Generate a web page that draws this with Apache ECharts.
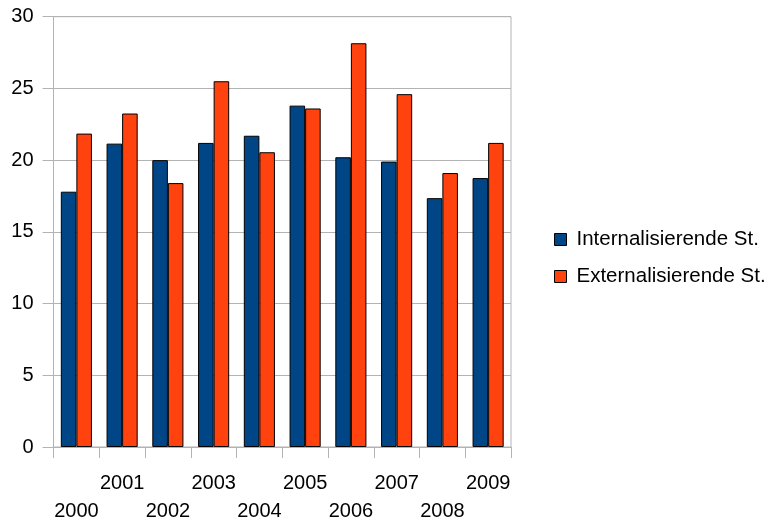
<!DOCTYPE html>
<html>
<head>
<meta charset="utf-8">
<script src="https://cdn.jsdelivr.net/npm/echarts@6/dist/echarts.min.js"></script>
<style>
  html, body { margin: 0; padding: 0; background: #fff; }
  #chart { width: 773px; height: 525px; }
</style>
</head>
<body>
<div id="chart"></div>
<script>
// Jahre und Werte je Störungsgruppe
const years = ['2000', '2001', '2002', '2003', '2004', '2005', '2006', '2007', '2008', '2009'];
const internalisierend = [17.8, 21.15, 20.0, 21.2, 21.7, 23.8, 20.2, 19.9, 17.35, 18.75];
const externalisierend = [21.85, 23.25, 18.4, 25.5, 20.55, 23.6, 28.15, 24.6, 19.1, 21.2];
const seriesNames = ['Internalisierende St.', 'Externalisierende St.'];
const yTicks = { min: 0, max: 30, interval: 5 };

const FONT = '"Liberation Sans", Arial, sans-serif';
const GRID_GRAY = '#b3b3b3';

const chart = echarts.init(document.getElementById('chart'), null, { renderer: 'canvas' });

chart.setOption({
  animation: false,
  backgroundColor: '#fff',
  textStyle: { fontFamily: FONT, color: '#000' },
  grid: {
    left: 53.5, right: 262, top: 16.7, bottom: 76,
    show: true, borderColor: GRID_GRAY, borderWidth: 1,
    containLabel: false
  },
  legend: {
    orient: 'vertical',
    left: 549,
    top: 224,
    itemWidth: 12,
    itemHeight: 12,
    itemGap: 16,
    icon: 'rect',
    itemStyle: { borderColor: '#000', borderWidth: 1 },
    textStyle: { fontFamily: FONT, fontSize: 20.5, color: '#000', padding: [0, 0, 0, 5] },
    data: seriesNames
  },
  xAxis: {
    type: 'category',
    data: years,
    boundaryGap: true,
    axisLine: { show: true, lineStyle: { color: GRID_GRAY, width: 1 } },
    axisTick: { show: true, length: 11, alignWithLabel: false, lineStyle: { color: GRID_GRAY } },
    axisLabel: {
      interval: 0,
      margin: 22,
      fontFamily: FONT,
      fontSize: 20,
      lineHeight: 28,
      color: '#000',
      verticalAlign: 'top',
      formatter: (v, i) => (i % 2 === 0 ? '\n' + v : v)
    },
    splitLine: { show: false }
  },
  yAxis: {
    type: 'value',
    min: yTicks.min,
    max: yTicks.max,
    interval: yTicks.interval,
    axisLine: { show: true, lineStyle: { color: GRID_GRAY, width: 1 } },
    axisTick: { show: true, length: 11, lineStyle: { color: GRID_GRAY } },
    axisLabel: { margin: 20, fontFamily: FONT, fontSize: 20, color: '#000' },
    splitLine: { show: true, lineStyle: { color: GRID_GRAY, width: 1 } }
  },
  series: [
    {
      name: seriesNames[0],
      type: 'bar',
      data: internalisierend,
      barGap: '0%',
      barCategoryGap: '32%',
      itemStyle: { color: '#004586', borderColor: '#000', borderWidth: 1 }
    },
    {
      name: seriesNames[1],
      type: 'bar',
      data: externalisierend,
      barGap: '0%',
      barCategoryGap: '32%',
      itemStyle: { color: '#ff420e', borderColor: '#000', borderWidth: 1 }
    }
  ]
});
</script>
</body>
</html>
